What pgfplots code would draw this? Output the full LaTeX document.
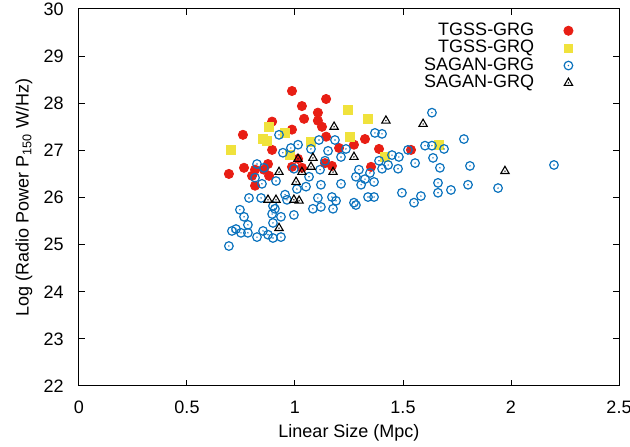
\documentclass[border=0pt]{standalone}
\usepackage{fontspec}
\setmainfont{Liberation Sans}
\usepackage{pgfplots}
\pgfplotsset{compat=1.18}
\definecolor{cred}{RGB}{232,30,20}
\definecolor{cyel}{RGB}{240,226,60}
\definecolor{cblue}{RGB}{10,114,189}
\pgfdeclareplotmark{dotcircle}{%
  \pgfpathcircle{\pgfpointorigin}{\pgfplotmarksize}\pgfusepathqstroke
  \pgfpathcircle{\pgfpointorigin}{0.4bp}\pgfusepathqfill}
\pgfdeclareplotmark{dottriangle}{%
  \pgfpathmoveto{\pgfpoint{0pt}{\pgfplotmarksize}}%
  \pgfpathlineto{\pgfpoint{0.866\pgfplotmarksize}{-0.5\pgfplotmarksize}}%
  \pgfpathlineto{\pgfpoint{-0.866\pgfplotmarksize}{-0.5\pgfplotmarksize}}%
  \pgfpathclose\pgfusepathqstroke
  \pgfpathcircle{\pgfpointorigin}{0.4bp}\pgfusepathqfill}
\begin{document}
\fontsize{9bp}{11bp}\selectfont
\begin{tikzpicture}
\begin{axis}[
  scale only axis, width=270bp, height=188.5bp,
  xmin=0, xmax=2.5, ymin=22, ymax=30,
  xtick={0,0.5,1,1.5,2,2.5}, ytick={22,23,24,25,26,27,28,29,30},
  xticklabels={0,0.5,1,1.5,2,2.5},
  tick align=inside, xtick pos=both, ytick pos=both,
  xticklabel pos=lower, yticklabel pos=left,
  major tick length=3bp,
  minor tick num=0,
  axis line style={line width=0.5bp, black},
  every tick/.style={line width=0.5bp, black},
  /pgf/number format/assume math mode=true,
  x tick label style={yshift=-4.5bp},
  y tick label style={xshift=-4.5bp},
  every axis x label/.style={at={([yshift=-23.5bp]axis description cs:0.5,0)}, anchor=center},
  every axis y label/.style={at={([xshift=-27.5bp]axis description cs:0,0.5)}, anchor=center, rotate=90},
  xlabel={Linear Size (Mpc)},
  ylabel={Log (Radio Power P\textsubscript{150} W/Hz)},
  legend plot pos=right,
  legend cell align=right,
  legend style={draw=none, fill=none, at={(rel axis cs:0.9267,0.977)}, anchor=north east,
    nodes={inner sep=0.2bp, text height=6.5bp, text depth=1.8bp},
    row sep=0pt, column sep=14.6bp},
]
\addplot[only marks, mark=*, mark size=2.3bp, color=cred, mark options={draw=cred, fill=cred}] coordinates {
(0.694,26.50) (0.759,27.33) (0.764,26.63) (0.801,26.46) (0.815,26.25) (0.815,26.59)
(0.856,26.59) (0.880,26.46) (0.875,26.71) (0.894,27.01) (0.894,27.61) (0.986,28.26)
(0.986,27.44) (0.986,26.65) (1.014,26.82) (1.032,27.94) (1.042,27.67) (1.032,26.63)
(1.106,27.80) (1.106,27.63) (1.125,27.50) (1.144,28.09) (1.144,27.29) (1.139,26.73)
(1.171,26.67) (1.204,27.05) (1.273,27.12) (1.324,27.24) (1.352,26.65) (1.389,27.03)
(1.537,27.01)
};
\addlegendentry{TGSS-GRG}
\addplot[only marks, mark=square*, mark size=2.1bp, color=cyel, mark options={draw=cyel, fill=cyel}] coordinates {
(0.704,27.01) (0.852,27.24) (0.870,27.20) (0.880,27.50) (0.954,27.37) (0.977,26.90)
(1.074,27.18) (1.245,27.86) (1.338,27.67) (1.255,27.29) (1.417,26.86) (1.667,27.12)
};
\addlegendentry{TGSS-GRQ}
\addplot[only marks, mark=dotcircle, mark size=2.15bp, color=cblue, mark options={line width=0.6bp, draw=cblue, fill=cblue}] coordinates {
(0.926,27.33) (1.014,27.12) (0.981,27.05) (0.944,26.95) (0.824,26.71) (1.111,27.22)
(1.185,27.22) (1.236,27.03) (1.074,27.03) (1.153,26.99) (1.213,26.86) (0.995,26.61)
(1.116,26.59) (1.139,26.78) (1.296,26.59) (1.282,26.44) (0.815,26.42) (0.847,26.29)
(0.912,26.35) (1.065,26.44) (1.120,26.27) (1.213,26.29) (1.009,26.18) (1.051,26.23)
(1.370,27.37) (1.403,27.35) (1.389,26.78) (1.403,26.61) (1.634,27.80) (1.782,27.24)
(1.602,27.10) (1.634,27.10) (1.690,27.03) (1.449,26.90) (1.481,26.86) (1.523,27.01)
(1.639,26.84) (1.431,26.69) (1.477,26.61) (1.556,26.73) (1.671,26.63) (1.810,26.67)
(1.347,26.52) (1.324,26.39) (1.366,26.33) (1.306,26.27) (1.495,26.10) (1.662,26.31)
(1.662,26.10) (1.722,26.16) (1.801,26.27) (1.940,26.20) (1.583,26.03) (1.551,25.89)
(1.338,26.01) (1.366,26.01) (1.273,25.89) (1.282,25.84) (2.199,26.69) (0.856,26.63)
(0.787,25.99) (0.843,25.99) (0.954,26.06) (0.963,25.95) (0.995,25.63) (0.898,25.82)
(0.907,25.76) (0.935,25.59) (0.745,25.74) (0.764,25.59) (0.894,25.65) (0.898,25.46)
(0.708,25.29) (0.727,25.33) (0.750,25.25) (0.782,25.25) (0.782,25.42) (0.824,25.16)
(0.852,25.29) (0.875,25.21) (0.898,25.14) (0.935,25.16) (0.694,24.97) (1.106,25.99)
(1.171,26.01) (1.190,25.93) (1.083,25.76) (1.120,25.80) (1.176,25.76)
};
\addlegendentry{SAGAN-GRG}
\addplot[only marks, mark=dottriangle, mark size=2.4bp, color=black, mark options={line width=0.55bp, draw=black, fill=black}] coordinates {
(1.014,26.82) (1.083,26.84) (1.181,27.50) (1.273,26.86) (0.926,26.54) (1.032,26.54)
(1.074,26.65) (1.176,26.54) (1.005,26.33) (0.875,25.95) (0.912,25.95) (0.995,25.95)
(1.019,25.93) (0.926,25.35) (1.421,27.63) (1.593,27.56) (1.972,26.56)
};
\addlegendentry{SAGAN-GRQ}
\coordinate (bl) at (rel axis cs:0,0);
\coordinate (tr) at (rel axis cs:1,1);
\end{axis}
\pgfresetboundingbox
\path ([xshift=-39.5bp,yshift=-30.5bp]bl) rectangle ([xshift=5.5bp,yshift=4.5bp]tr);
\end{tikzpicture}
\end{document}
